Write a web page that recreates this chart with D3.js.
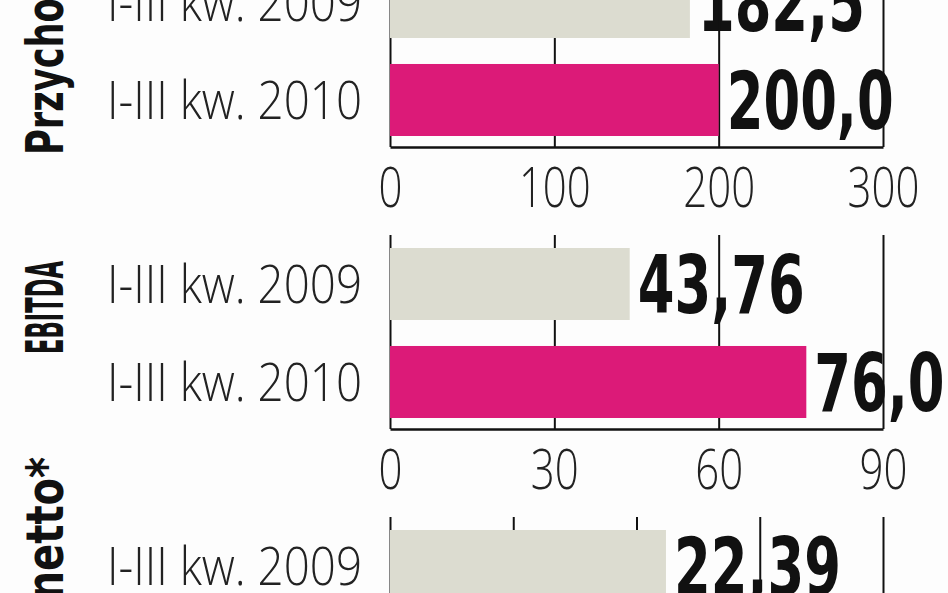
<!DOCTYPE html>
<html>
<head>
<meta charset="utf-8">
<script src="https://cdn.jsdelivr.net/npm/d3@7"></script>
<style>
  html, body { margin: 0; padding: 0; background: #fdfdfd; overflow: hidden; }
  svg { display: block; }
</style>
</head>
<body>
<svg id="chart" width="948" height="593"></svg>
<script>
// ---- data ----
const categories = ["I-III kw. 2009", "I-III kw. 2010"];
const panelTitles = ["Przychody", "EBITDA", "Zysk netto*"];
const revenue = [182.5, 200.0];
const ebitda = [43.76, 76.0];
const netProfit = [22.39, 30.5];
const revenueLabels = ["182,5", "200,0"];
const ebitdaLabels = ["43,76", "76,0"];
const netProfitLabels = ["22,39", "30,5"];
const revenueTicks = [0, 100, 200, 300];
const ebitdaTicks = [0, 30, 60, 90];
const netProfitTicks = [0, 10, 20, 30, 40];

const panels = [
  { title: panelTitles[0], values: revenue, labels: revenueLabels, ticks: revenueTicks },
  { title: panelTitles[1], values: ebitda, labels: ebitdaLabels, ticks: ebitdaTicks },
  { title: panelTitles[2], values: netProfit, labels: netProfitLabels, ticks: netProfitTicks }
];

// ---- layout / style ----
const colors = ["#dcdcd0", "#dc1a78"];
const X0 = 390, X1 = 883;
const firstAxisY = 147, panelStep = 282;
const gridHeight = 194;
const titleLayout = [
  { anchor: "start", dy: 8, len: 205 },
  { anchor: "start", dy: -75, len: 93 },
  { anchor: "end", dy: -254, len: 262 }
];
const LIGHT = "'Open Sans', 'DejaVu Sans', sans-serif";
const BOLD = "'DejaVu Sans', sans-serif";

const svg = d3.select("#chart");

panels.forEach((p, i) => {
  const axisY = firstAxisY + panelStep * i;
  const g = svg.append("g");

  const x = d3.scaleLinear().domain([0, d3.max(p.ticks)]).range([X0, X1]);
  const y = d3.scaleBand().domain(categories)
    .range([axisY - 181, axisY - 11]).paddingInner(0.265).paddingOuter(0);

  const rows = categories.map((c, j) => ({ cat: c, v: p.values[j], label: p.labels[j], j }));

  // value labels (behind gridlines)
  g.append("g").selectAll("g").data(rows).join("g")
    .attr("transform", d => `translate(${x(d.v) + 8},${y(d.cat) + y.bandwidth() / 2 + 29})`)
    .append("text")
    .attr("transform", "scale(0.66,1)")
    .attr("font-family", BOLD)
    .attr("font-weight", 700)
    .attr("font-size", 80)
    .attr("fill", "#111")
    .text(d => d.label);

  // axis with gridlines
  const axis = d3.axisBottom(x).tickValues(p.ticks)
    .tickSize(-gridHeight).tickSizeOuter(0).tickPadding(0)
    .tickFormat(d3.format("d"));
  const ag = g.append("g").attr("transform", `translate(0,${axisY})`).call(axis);
  ag.select(".domain").attr("stroke", "#111").attr("stroke-width", 2.5);
  ag.selectAll(".tick line").attr("stroke", "#111").attr("stroke-width", 2);
  ag.selectAll(".tick text")
    .attr("y", 60).attr("dy", null)
    .attr("transform", "scale(0.75,1)")
    .attr("font-family", LIGHT)
    .attr("font-weight", 300)
    .attr("font-size", 56)
    .attr("fill", "#222");

  // bars
  g.append("g").selectAll("rect").data(rows).join("rect")
    .attr("x", x(0))
    .attr("y", d => y(d.cat))
    .attr("width", d => x(d.v) - x(0))
    .attr("height", y.bandwidth())
    .attr("fill", d => colors[d.j]);

  // category labels
  g.append("g").selectAll("text").data(rows).join("text")
    .attr("x", 362)
    .attr("y", d => y(d.cat) + y.bandwidth() / 2 + 19)
    .attr("text-anchor", "end")
    .attr("font-family", LIGHT)
    .attr("font-weight", 300)
    .attr("font-size", 53)
    .attr("textLength", 255)
    .attr("lengthAdjust", "spacingAndGlyphs")
    .attr("fill", "#222")
    .text(d => d.cat);

  // panel title (rotated)
  const tl = titleLayout[i];
  g.append("text")
    .attr("transform", `translate(63,${axisY + tl.dy}) rotate(-90)`)
    .attr("text-anchor", tl.anchor)
    .attr("font-family", BOLD)
    .attr("font-weight", 700)
    .attr("font-size", 52)
    .attr("textLength", tl.len)
    .attr("lengthAdjust", "spacingAndGlyphs")
    .attr("fill", "#111")
    .text(p.title);
});
</script>
</body>
</html>
